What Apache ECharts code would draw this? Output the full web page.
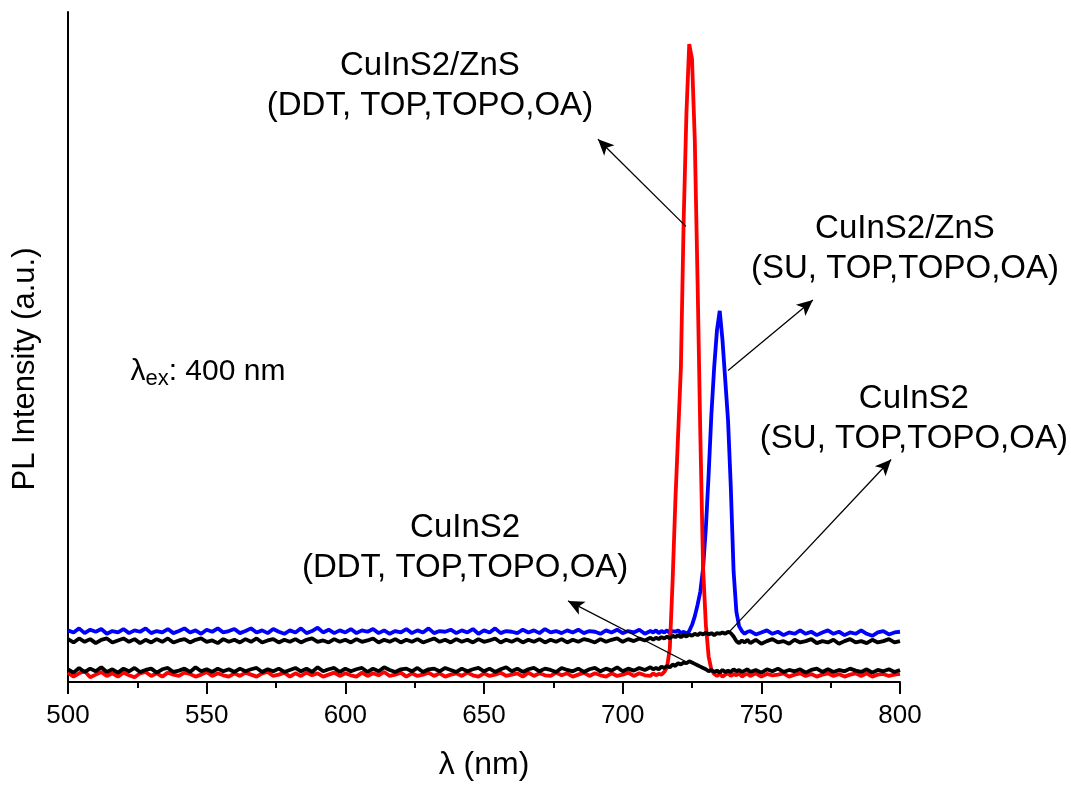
<!DOCTYPE html>
<html>
<head>
<meta charset="utf-8">
<script src="https://cdn.jsdelivr.net/npm/echarts@6/dist/echarts.min.js"></script>
<style>
  html, body { margin: 0; padding: 0; background: #fff; }
  #chart { width: 1071px; height: 786px; }
</style>
</head>
<body>
<div id="chart"></div>
<script>
// Emission wavelength grid (nm): 2 nm steps, 1 nm across the emission band
const wavelength = [
  500,502,504,506,508,510,512,514,516,518,
  520,522,524,526,528,530,532,534,536,538,
  540,542,544,546,548,550,552,554,556,558,
  560,562,564,566,568,570,572,574,576,578,
  580,582,584,586,588,590,592,594,596,598,
  600,602,604,606,608,610,612,614,616,618,
  620,622,624,626,628,630,632,634,636,638,
  640,642,644,646,648,650,652,654,656,658,
  660,662,664,666,668,670,672,674,676,678,
  680,682,684,686,688,690,692,694,696,698,
  700,702,704,706,708,710,
  711,712,713,714,715,716,717,718,719,720,
  721,722,723,724,725,726,727,728,729,730,
  731,732,733,734,735,736,737,738,739,740,
  741,742,743,744,745,
  746,748,750,752,754,756,758,760,762,764,
  766,768,770,772,774,776,778,780,782,784,
  786,788,790,792,794,796,798,800
];

// CuInS2/ZnS (SU, TOP,TOPO,OA)
const plSuZnS = [
  7.7,7.4,8.0,7.3,7.8,7.5,7.9,7.2,7.6,7.4,
  7.9,7.3,7.7,7.5,8.0,7.3,7.6,7.4,7.9,7.3,
  7.6,8.0,7.4,7.7,7.2,7.8,7.5,8.0,7.4,7.6,
  7.9,7.3,7.6,8.0,7.4,7.7,7.3,7.9,7.5,7.2,
  7.7,7.4,8.0,7.3,7.6,8.1,7.4,7.8,7.3,7.7,
  7.4,7.9,7.3,7.7,7.5,7.9,7.3,7.7,7.2,7.6,
  7.4,7.9,7.3,7.7,7.4,8.0,7.3,7.6,7.5,7.8,
  7.3,7.7,7.4,7.9,7.2,7.7,7.4,8.0,7.3,7.6,
  7.5,7.3,7.8,7.4,7.7,7.3,7.9,7.4,7.6,7.3,
  7.7,7.4,7.8,7.3,7.6,7.5,7.2,7.7,7.4,7.8,
  7.3,7.6,7.4,7.8,7.2,7.6,
  7.4,7.7,7.3,7.6,7.4,7.7,7.3,7.6,7.5,7.7,
  7.3,7.5,7.2,7.6,8.5,9.8,11.5,13.5,17.0,23.0,
  31.0,40.0,47.0,52.5,55.4,51.0,45.0,39.0,29.0,16.5,
  10.5,8.3,7.6,7.2,7.5,
  7.6,7.1,7.4,7.7,7.2,7.5,7.0,7.4,7.2,7.7,
  7.2,7.5,7.0,7.4,7.7,7.2,7.5,7.0,7.4,7.2,
  7.7,7.2,6.9,7.4,7.6,7.1,7.4,7.5
];

// CuInS2/ZnS (DDT, TOP,TOPO,OA)
const plDdtZnS = [
  1.4,0.8,1.3,1.6,0.7,1.1,1.5,0.9,1.3,0.8,
  1.4,1.0,0.7,1.3,1.5,0.9,1.3,0.8,1.4,1.1,
  0.9,1.4,1.2,0.8,1.1,1.5,0.9,1.3,1.0,0.8,
  1.3,0.9,1.4,1.1,0.8,1.3,1.5,0.9,1.1,1.4,
  0.8,1.3,0.9,1.4,1.0,1.3,0.8,1.1,1.4,0.9,
  1.3,1.0,0.8,1.4,0.9,1.3,1.0,1.5,0.9,1.1,
  1.4,0.8,1.3,0.9,1.1,1.4,0.9,1.3,0.8,1.1,
  1.3,0.9,1.4,1.0,0.8,1.3,0.9,1.1,1.4,0.9,
  1.1,1.3,0.8,1.4,0.9,1.3,1.0,0.9,1.4,1.0,
  1.3,0.8,1.1,1.4,0.9,1.3,1.0,0.8,1.3,0.9,
  1.1,1.4,0.9,1.3,1.0,0.9,
  1.3,1.0,1.2,1.1,1.5,2.2,5.0,15.0,27.0,37.0,
  47.0,69.0,85.0,95.2,93.0,81.0,60.0,37.0,17.0,8.5,
  3.8,1.8,1.2,0.9,1.2,0.8,1.1,1.3,0.9,1.2,
  1.0,1.3,0.8,1.1,1.2,
  0.9,1.3,0.8,1.2,1.0,1.1,1.3,0.8,1.1,1.3,
  0.9,1.2,0.8,1.1,1.3,0.9,1.2,0.8,1.1,1.3,
  0.9,1.3,0.8,1.1,1.2,0.9,1.1,1.2
];

// CuInS2 (SU, TOP,TOPO,OA)
const plSuCore = [
  6.4,5.9,6.5,6.0,6.4,5.8,6.3,6.5,5.9,6.2,
  6.5,6.0,6.4,5.8,6.3,5.9,6.4,6.0,6.5,5.9,
  6.2,6.4,5.9,6.3,6.5,6.0,6.2,5.8,6.4,6.0,
  6.3,5.9,6.4,6.0,6.5,5.9,6.2,6.4,5.9,6.3,
  6.0,6.4,5.9,6.3,6.5,6.0,6.2,5.9,6.4,6.0,
  6.3,5.9,6.4,6.0,6.2,6.5,5.9,6.3,6.0,6.4,
  5.9,6.3,6.0,6.4,5.9,6.2,6.5,6.0,6.3,5.9,
  6.4,6.0,6.3,5.9,6.4,6.0,6.2,6.5,5.9,6.3,
  6.0,6.4,5.9,6.3,6.0,6.4,5.9,6.3,6.0,6.4,
  5.9,6.3,6.0,6.4,6.2,5.9,6.4,6.0,6.3,6.5,
  6.0,6.4,6.1,6.5,6.2,6.6,
  6.3,6.6,6.4,6.7,6.5,6.8,6.5,6.9,6.7,7.0,
  6.7,7.0,6.8,7.1,6.9,7.2,7.0,7.3,7.1,7.4,
  7.1,7.3,7.0,7.3,7.2,7.4,7.2,7.5,7.3,6.8,
  6.1,5.8,6.2,5.9,6.3,
  5.8,6.3,5.7,6.1,6.4,5.9,6.1,5.7,6.3,5.9,
  6.1,6.4,5.8,6.1,5.9,6.3,5.7,6.1,6.4,5.9,
  6.1,5.8,6.3,5.9,6.1,6.4,5.9,6.1
];

// CuInS2 (DDT, TOP,TOPO,OA)
const plDdtCore = [
  1.9,1.4,2.1,1.5,2.0,1.6,2.2,1.5,1.9,1.4,
  2.0,1.6,2.1,1.5,1.8,2.0,1.4,1.9,2.1,1.5,
  1.7,2.0,1.5,2.2,1.6,1.9,1.5,2.0,1.6,1.9,
  1.5,2.0,1.6,1.9,2.1,1.5,1.9,1.6,2.0,1.5,
  1.8,2.1,1.6,2.0,1.5,2.2,1.6,1.9,2.1,1.5,
  2.0,1.6,1.9,2.1,1.5,2.0,1.6,2.2,1.8,1.5,
  1.9,2.0,1.6,2.1,1.5,1.9,2.0,1.6,2.1,1.8,
  1.5,2.0,1.6,1.9,2.1,1.6,2.0,1.5,1.9,2.2,
  1.6,2.0,1.5,1.9,2.1,1.6,2.0,1.8,1.5,2.1,
  1.8,1.6,2.0,1.5,1.9,2.1,1.6,2.0,1.7,2.2,
  1.6,2.0,1.7,2.1,1.8,2.2,
  1.9,2.1,1.9,2.3,2.1,2.4,2.2,2.6,2.4,2.8,
  2.6,2.9,2.8,3.1,2.9,2.7,2.5,2.3,2.1,1.9,
  1.6,1.8,1.5,1.7,1.4,1.8,1.5,1.7,1.5,1.9,
  1.6,1.8,1.5,1.7,1.9,
  1.5,1.8,1.4,1.9,1.6,2.0,1.5,1.8,1.6,1.9,
  1.4,1.8,2.0,1.5,1.9,1.5,1.8,1.6,2.0,1.7,
  1.5,1.9,1.4,1.8,1.6,1.9,1.5,1.8
];

// Axis ticks
const xTicks = [500, 550, 600, 650, 700, 750, 800];

// Callouts: arrow tail -> head, and text block centres (data coordinates)
const arrowTail = [[722.8, 68.0], [738.0, 46.5], [738.0, 7.3], [723.9, 2.8]];
const arrowHead = [[691.1, 81.0], [768.6, 57.0], [796.8, 33.2], [680.3, 12.1]];
const calloutText = [
  'CuInS2/ZnS\n(DDT, TOP,TOPO,OA)',
  'CuInS2/ZnS\n(SU, TOP,TOPO,OA)',
  'CuInS2\n(SU, TOP,TOPO,OA)',
  'CuInS2\n(DDT, TOP,TOPO,OA)'
];
const calloutPos = [[630.5, 88.9], [801.8, 64.6], [805.0, 39.3], [643.2, 20.0]];
const excitationPos = [522.5, 46.3];

const FONT = '"Liberation Sans", Arial, Helvetica, sans-serif';

const pairs = vals => wavelength.map((w, i) => [w, vals[i]]);

const chart = echarts.init(document.getElementById('chart'), null, { renderer: 'canvas' });

const lineSeries = (name, vals, color) => ({
  name, type: 'line', data: pairs(vals), showSymbol: false, symbol: 'none',
  lineStyle: { color, width: 3.8 }, itemStyle: { color },
  animation: false, silent: true, clip: true
});

const arrows = arrowTail.map((t, i) => [{ coord: t }, { coord: arrowHead[i] }]);

const series = [
  lineSeries('CuInS2/ZnS (SU)', plSuZnS, '#0000ff'),
  lineSeries('CuInS2/ZnS (DDT)', plDdtZnS, '#ff0000'),
  lineSeries('CuInS2 (SU)', plSuCore, '#000000'),
  lineSeries('CuInS2 (DDT)', plDdtCore, '#000000')
];
series[3].markLine = {
  silent: true, animation: false,
  symbol: ['none', 'arrow'], symbolSize: [11, 16],
  lineStyle: { color: '#000', width: 1.3, type: 'solid' },
  itemStyle: { color: '#000' },
  label: { show: false },
  data: arrows
};

chart.setOption({
  backgroundColor: '#fff',
  animation: false,
  grid: { left: 68, right: 171, top: 12, bottom: 99 },
  xAxis: {
    type: 'value', min: xTicks[0], max: xTicks[xTicks.length - 1], interval: 50,
    axisLine: { show: true, onZero: false, lineStyle: { color: '#000', width: 2 } },
    axisTick: { show: true, inside: false, length: 12, lineStyle: { color: '#000', width: 2 } },
    minorTick: { show: true, splitNumber: 2, length: 6, lineStyle: { color: '#000', width: 2 } },
    splitLine: { show: false },
    axisLabel: { color: '#000', fontSize: 26, fontFamily: FONT, margin: 21 },
    name: 'λ (nm)', nameLocation: 'middle', nameGap: 67,
    nameTextStyle: { color: '#000', fontSize: 32, fontFamily: FONT }
  },
  yAxis: {
    type: 'value', min: 0, max: 100,
    axisLine: { show: true, onZero: false, lineStyle: { color: '#000', width: 2 } },
    axisTick: { show: false }, axisLabel: { show: false }, splitLine: { show: false }
  },
  series
});

// Text annotations placed from data coordinates
const toPx = p => chart.convertToPixel({ gridIndex: 0 }, p);
const graphic = calloutText.map((t, i) => {
  const p = toPx(calloutPos[i]);
  return {
    type: 'text', x: p[0], y: p[1], silent: true,
    style: {
      text: t, fill: '#000', font: '33px ' + FONT,
      align: 'center', verticalAlign: 'middle', lineHeight: 40
    }
  };
});
const ex = toPx(excitationPos);
graphic.push({
  type: 'text', x: ex[0], y: ex[1], silent: true,
  style: {
    text: '{a|λ}{b|ex}{a|: 400 nm}', fill: '#000',
    align: 'left', verticalAlign: 'middle',
    rich: {
      a: { fontSize: 30, fontFamily: FONT, fill: '#000', lineHeight: 36, verticalAlign: 'middle' },
      b: { fontSize: 22, fontFamily: FONT, fill: '#000', lineHeight: 36, verticalAlign: 'bottom', padding: [12, 0, 0, 0] }
    }
  }
});
graphic.push({
  type: 'text', x: 25, y: 369, rotation: Math.PI / 2, silent: true,
  style: {
    text: 'PL Intensity (a.u.)', fill: '#000', font: '31px ' + FONT,
    align: 'center', verticalAlign: 'middle'
  }
});
chart.setOption({ graphic });
</script>
</body>
</html>
